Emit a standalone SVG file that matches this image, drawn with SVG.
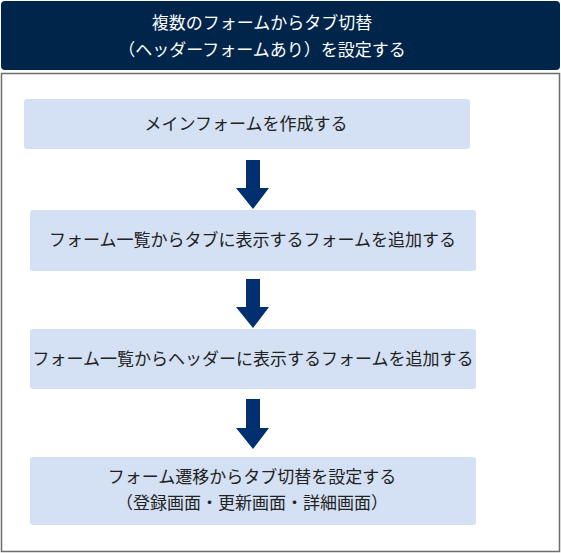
<svg xmlns="http://www.w3.org/2000/svg" width="561" height="553" viewBox="0 0 561 553">
<style>
text{font-family:"Noto Sans CJK JP","Noto Sans",sans-serif;font-size:17px;text-anchor:middle;dominant-baseline:central}
.t{fill:#ffffff}
.b{fill:#222222}
.box{fill:#D4E0F3}
.arr{fill:#003070}
</style>
<rect x="0" y="0" width="561" height="553" fill="#ffffff"/>
<g id="header">
<rect x="1" y="1" width="559" height="69" rx="4" fill="#00254A"/>
<text class="t" x="262" y="21">複数のフォームからタブ切替</text>
<text class="t" x="262" y="48">（ヘッダーフォームあり）を設定する</text>
</g>
<rect x="1.5" y="73.5" width="558" height="478" fill="none" stroke="#6d6d6d" stroke-width="1.5"/>
<g id="step1">
<rect class="box" x="24" y="99" width="446" height="50" rx="3"/>
<text class="b" x="246" y="122">メインフォームを作成する</text>
</g>
<g id="step2">
<rect class="box" x="30" y="210" width="446" height="61" rx="3"/>
<text class="b" x="252.5" y="238.5">フォーム一覧からタブに表示するフォームを追加する</text>
</g>
<g id="step3">
<rect class="box" x="30" y="329" width="446" height="60" rx="3"/>
<text class="b" x="253" y="357.5">フォーム一覧からヘッダーに表示するフォームを追加する</text>
</g>
<g id="step4">
<rect class="box" x="30" y="457" width="446" height="68" rx="3"/>
<text class="b" x="252" y="475.5">フォーム遷移からタブ切替を設定する</text>
<text class="b" x="252" y="501.5">（登録画面・更新画面・詳細画面）</text>
</g>
<g id="connectors">
<path class="arr" d="M246,160 H260 V188 H269 L253,209 L236,188 H246 Z"/>
<path class="arr" d="M246,279 H260 V307 H269 L253,328 L236,307 H246 Z"/>
<path class="arr" d="M246,399 H260 V428 H269 L253,449 L236,428 H246 Z"/>
</g>
</svg>
